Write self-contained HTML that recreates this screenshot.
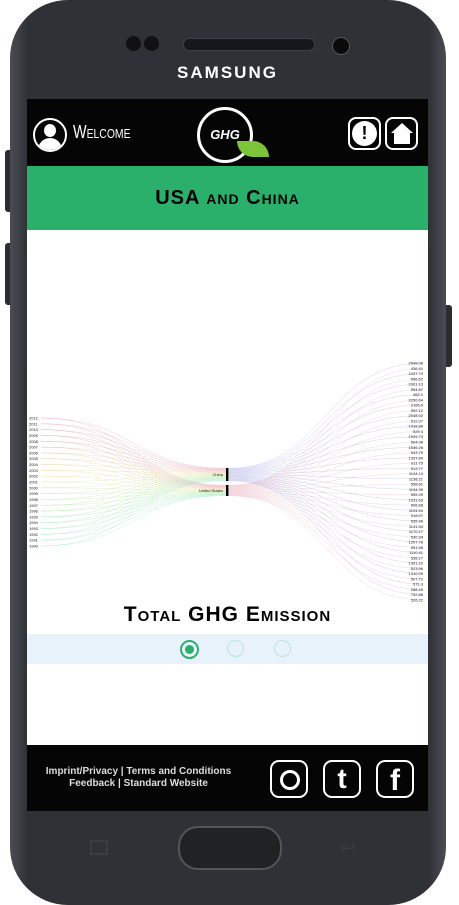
<!DOCTYPE html>
<html><head><meta charset="utf-8"><style>
body{margin:0;width:459px;height:905px;background:#fff;position:relative;overflow:hidden;font-family:"Liberation Sans",sans-serif}
.abs{position:absolute}
</style></head><body>
<div class="abs" style="left:5px;top:150px;width:8px;height:62px;background:#2a2d31;border-radius:3px"></div>
<div class="abs" style="left:5px;top:243px;width:8px;height:62px;background:#2a2d31;border-radius:3px"></div>
<div class="abs" style="left:444px;top:305px;width:8px;height:62px;background:#2a2d31;border-radius:3px"></div>
<div class="abs" style="left:10px;top:0;width:436px;height:905px;background:linear-gradient(90deg,#4a4e54,#2e3237 4%,#2e3237 96%,#4a4e54);border-radius:58px"></div>
<div class="abs" style="left:126px;top:36px;width:36px;height:16px;"><div style="position:absolute;left:0;top:0;width:15px;height:15px;border-radius:50%;background:#111"></div><div style="position:absolute;left:18px;top:0;width:15px;height:15px;border-radius:50%;background:#111"></div></div>
<div class="abs" style="left:183px;top:38px;width:130px;height:11px;border-radius:6px;background:#15171a;border:1px solid #3c4046"></div>
<div class="abs" style="left:332px;top:37px;width:16px;height:16px;border-radius:50%;background:#0a0a0a;border:1px solid #555"></div>
<div class="abs" style="left:150px;top:63px;width:155px;text-align:center;color:#fff;font-weight:bold;font-size:17px;letter-spacing:2px">SAMSUNG</div>

<div class="abs" style="left:27px;top:99px;width:401px;height:712px;background:#fff;overflow:hidden">
  <div class="abs" style="left:0;top:0;width:401px;height:67px;background:#050505">
    <div class="abs" style="left:6px;top:19px;width:30px;height:30px;border:2px solid #fff;border-radius:50%;overflow:hidden"><div style="position:absolute;left:9px;top:4px;width:12px;height:13px;border-radius:50%;background:#fff"></div><div style="position:absolute;left:3px;top:18px;width:24px;height:16px;border-radius:12px 12px 0 0;background:#fff"></div></div>
    <div class="abs" style="left:46px;top:23px;color:#fff;font-size:18px;font-variant:small-caps;font-family:'Liberation Sans Narrow','Liberation Sans',sans-serif;transform:scaleX(0.8);transform-origin:left">Welcome</div>
    <div class="abs" style="left:170px;top:8px;width:50px;height:50px;border:3px solid #fff;border-radius:50%;color:#fff;text-align:center;line-height:50px;font-size:13px;font-style:italic;font-weight:bold">GHG</div>
    <div class="abs" style="left:210px;top:42px;width:32px;height:16px;background:#7ec43a;border-radius:0 16px 0 16px"></div>
    <div class="abs" style="left:321px;top:18px;width:29px;height:29px;border:2px solid #fff;border-radius:8px;"><div style="position:absolute;left:2px;top:2px;width:25px;height:25px;background:#fff;border-radius:50%;color:#000;text-align:center;font-weight:bold;line-height:25px;font-size:18px">!</div></div>
    <div class="abs" style="left:358px;top:18px;width:29px;height:29px;border:2px solid #fff;border-radius:8px;"><div style="position:absolute;left:4px;top:4px;width:0;height:0;border-left:11px solid transparent;border-right:11px solid transparent;border-bottom:10px solid #fff"></div><div style="position:absolute;left:7px;top:14px;width:16px;height:11px;background:#fff"></div></div>
  </div>
  <div class="abs" style="left:0;top:67px;width:401px;height:64px;background:#2bb06c;text-align:center;line-height:64px;font-size:20px;font-variant:small-caps;font-weight:bold;letter-spacing:1px">USA and China</div>
  <svg class="abs" id="chart" style="left:0;top:0" width="401" height="712"></svg>
  <div class="abs" style="left:0;top:504px;width:401px;text-align:center;font-size:21px;font-variant:small-caps;font-weight:bold;letter-spacing:1px">Total GHG Emission</div>
  <div class="abs" style="left:0;top:535px;width:401px;height:30px;background:#e8f2fb">
    <div class="abs" style="left:153px;top:6px;width:15px;height:15px;border:2px solid #2bb06c;border-radius:50%"><div style="position:absolute;left:3px;top:3px;width:9px;height:9px;background:#2bb06c;border-radius:50%"></div></div>
    <div class="abs" style="left:200px;top:6px;width:15px;height:15px;border:1px solid #bfe3dc;border-radius:50%"></div>
    <div class="abs" style="left:247px;top:6px;width:15px;height:15px;border:1px solid #bfe3dc;border-radius:50%"></div>
  </div>
  <div class="abs" style="left:0;top:646px;width:401px;height:66px;background:#050505">
    <div class="abs" style="left:0;top:21px;width:223px;text-align:center;color:#ddd;font-size:10px;font-weight:bold;line-height:12px;white-space:nowrap">Imprint/Privacy | Terms and Conditions<br>Feedback | Standard Website</div>
    <div class="abs" style="left:243px;top:15px;width:34px;height:34px;border:2px solid #fff;border-radius:9px"><div style="position:absolute;left:8px;top:8px;width:14px;height:14px;border:3px solid #fff;border-radius:50%"></div></div>
    <div class="abs" style="left:296px;top:15px;width:34px;height:34px;border:2px solid #fff;border-radius:9px;color:#fff;text-align:center;font-size:28px;font-weight:bold;line-height:34px">t</div>
    <div class="abs" style="left:349px;top:15px;width:34px;height:34px;border:2px solid #fff;border-radius:9px;color:#fff;text-align:center;font-size:30px;font-weight:bold;line-height:38px">f</div>
  </div>
</div>
<div class="abs" style="left:178px;top:826px;width:100px;height:40px;border-radius:20px;background:#202326;border:2px solid #555"></div>
<div class="abs" style="left:90px;top:840px;width:14px;height:11px;border:2px solid #3a3d42"></div>
<div class="abs" style="left:340px;top:838px;color:#3a3d42;font-size:18px">↩</div>
<script>
const years=[2012,2011,2010,2009,2008,2007,2006,2005,2004,2003,2002,2001,2000,1999,1998,1997,1996,1995,1994,1993,1992,1991,1990];
const nodes=["China","United States"];
const values=["2548.08","436.41","2437.74","556.62","2321.13","554.87","462.1","2250.64","2155.9","592.12","2048.02","512.27","1918.88","529.3","1929.73","504.08","1536.26","543.75","1337.84","611.75","513.77","1144.13","1138.21","558.61","1134.39","555.49","1031.63","506.68","1104.54","918.07","535.46","1141.54","1170.17","530.34","1207.78","591.56","1110.41","538.17","1301.22","523.56","1310.09","507.72","571.3","288.45","702.88","526.22"];
const valueNode=values.map((v,i)=>i%2); // 0 = China, 1 = US
const svg=document.getElementById('chart');
const NS='http://www.w3.org/2000/svg';
const yearY=i=>319+i*(128/(years.length-1));
const valY=i=>264+i*(237/(values.length-1));
const nodeTop=[369,386],nodeH=[13,11];
const nodeX=200,leftX=14,rightX=396;
function mk(t,a){const e=document.createElementNS(NS,t);for(const k in a)e.setAttribute(k,a[k]);svg.appendChild(e);return e;}
function curve(x0,y0,x1,y1,c){const m=(x0+x1)/2;const p=mk('path',{d:`M${x0},${y0}C${m},${y0} ${m},${y1} ${x1},${y1}`,fill:'none',stroke:c,'stroke-width':0.5,'stroke-opacity':0.35});return p;}
years.forEach((y,i)=>{
  const hue=(330+i*9)%360;
  nodes.forEach((n,j)=>{
    const ty=nodeTop[j]+nodeH[j]*(i+0.5)/years.length;
    const p=curve(leftX,yearY(i),nodeX-1,ty,`hsl(${hue},60%,62%)`);
    
    
  });
  const t=mk('text',{x:2,y:yearY(i)+1.5,'font-size':4,fill:'#222'});t.textContent=y;
  
  
});
const cnt=[0,0];
values.forEach((v,i)=>{
  const j=valueNode[i];
  const ty=nodeTop[j]+nodeH[j]*(cnt[j]++ +0.5)/23;
  const p=curve(nodeX+2,ty,rightX,valY(i),j?'#d9889a':'#7a7ad0');
  
  
  const t=mk('text',{x:rightX,y:valY(i)+1.5,'font-size':4,fill:'#222','text-anchor':'end'});t.textContent=v;
  
  
});
nodes.forEach((n,j)=>{
  const r=mk('rect',{x:nodeX-1,y:nodeTop[j],width:2.5,height:nodeH[j],fill:'#000'});
  
  
  const t=mk('text',{x:nodeX-4,y:nodeTop[j]+nodeH[j]/2+1.3,'font-size':4,fill:'#222','text-anchor':'end'});t.textContent=n;
  
  
});
</script>
</body></html>
